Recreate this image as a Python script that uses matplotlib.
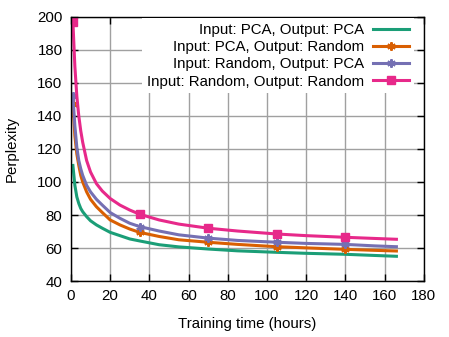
import matplotlib
matplotlib.use("Agg")
import matplotlib.pyplot as plt

# training time (hours) and perplexity for each configuration
hours = [1, 2, 3, 4, 5, 6, 8, 10, 13, 16, 20, 25, 30, 35, 45, 55, 70, 85, 105, 120, 140, 155, 166]
pca_pca = [110, 98, 91, 87, 84, 82, 79, 76.5, 74, 72, 69.5, 67.5, 65.5, 64.3, 62, 60.7, 59.4, 58.3,
           57.4, 56.8, 56.2, 55.5, 55]
pca_rand = [147, 128, 117, 110, 104, 100, 94, 89.5, 85, 81.5, 77, 74, 71.5, 69.5, 67, 65, 63.5, 62.2,
            60.8, 60.1, 59.2, 58.6, 58.2]
rand_pca = [152, 134, 121, 113, 108, 104, 98, 94, 89.5, 86, 81.5, 78, 75, 73, 70.3, 68, 66, 64.6,
            63.5, 62.8, 62.2, 61.3, 60.8]
rand_rand = [197, 170, 152, 140, 131, 124, 113, 106, 99, 94.5, 90, 86, 83, 80.5, 77, 74.5, 72, 70.3,
             68.5, 67.5, 66.5, 65.8, 65.3]
marker_hours = [1, 35, 70, 105, 140]

labels = ["Input: PCA, Output: PCA", "Input: PCA, Output: Random",
          "Input: Random, Output: PCA", "Input: Random, Output: Random"]
colors = ["#1b9e77", "#d95f02", "#7570b3", "#e7298a"]

plt.rcParams['font.family'] = ['Liberation Sans', 'DejaVu Sans']
plt.rcParams['font.size'] = 10.8

fig = plt.figure(figsize=(4.49, 3.37), dpi=100)
ax = fig.add_axes([0.158, 0.166, 0.786, 0.784])

marks = [i for i, h in enumerate(hours) if h in marker_hours]
star = (6, 2, 0)

ax.plot(hours, pca_pca, color=colors[0], lw=2.2, label=labels[0])
ax.plot(hours, pca_rand, color=colors[1], lw=2.2, marker=star, ms=6, mew=1.5,
        markevery=marks, label=labels[1])
ax.plot(hours, rand_pca, color=colors[2], lw=2.2, marker=star, ms=6, mew=1.5,
        markevery=marks, label=labels[2])
ax.plot(hours, rand_rand, color=colors[3], lw=2.2, marker='s', ms=6,
        markevery=marks, label=labels[3])

ax.set_xlim(0, 180)
ax.set_ylim(40, 200)
ax.set_xticks(range(0, 181, 20))
ax.set_yticks(range(40, 201, 20))
ax.tick_params(direction='in', top=True, right=True, length=5, width=1, pad=6)
ax.grid(True, color='#a0a0a0', lw=1)
ax.set_axisbelow(True)
for s in ax.spines.values():
    s.set_linewidth(1)

ax.set_xlabel("Training time (hours)", labelpad=10)
ax.set_ylabel("Perplexity", labelpad=13)

leg = ax.legend(loc='upper right', bbox_to_anchor=(0.975, 1.0), markerfirst=False,
                frameon=True, fancybox=False, edgecolor='none', facecolor='white',
                framealpha=1, handlelength=2.4, handletextpad=0.6, labelspacing=0.22,
                borderaxespad=0.1, borderpad=0.3)

fig.savefig("out.png", dpi=100)
